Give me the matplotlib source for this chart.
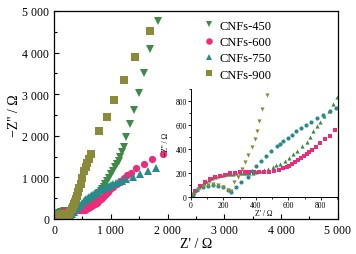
import matplotlib
matplotlib.use('Agg')
import matplotlib.pyplot as plt
from matplotlib.ticker import MultipleLocator, FuncFormatter

plt.rcParams['font.family'] = ['Liberation Serif', 'DejaVu Serif']

# Nyquist data (Z' , -Z'')
z450_re = [6, 20, 35, 50, 65, 80, 95, 112, 130, 148, 165, 182, 200, 220, 240, 260, 280, 300,
           320, 340, 360, 380, 400, 425, 450, 475, 504, 527, 549, 578, 607, 630, 652, 683, 714,
           735, 755, 776, 796, 823, 850, 877, 903, 930, 960, 1000, 1040, 1075, 1110, 1140, 1170,
           1200, 1225, 1263, 1333, 1409, 1491, 1585, 1696, 1830]
z450_im = [10, 45, 68, 85, 102, 118, 132, 145, 157, 167, 175, 182, 188, 193, 196, 198, 200, 202,
           203, 204, 205, 206, 210, 217, 225, 238, 255, 266, 278, 303, 328, 358, 388, 425, 463,
           506, 550, 590, 630, 676, 722, 778, 833, 905, 980, 1070, 1160, 1240, 1320, 1405, 1490,
           1600, 1720, 1981, 2277, 2622, 3024, 3506, 4084, 4752]

z600_re = [6, 27, 54, 84, 115, 146, 177, 208, 239, 270, 301, 330, 360, 390, 420, 450, 480, 510,
           540, 570, 590, 607, 625, 642, 660, 677, 695, 714, 730, 749, 772, 796, 825, 854, 887,
           920, 950, 982, 1045, 1111, 1170, 1228, 1290, 1351, 1450, 1584, 1731, 1918]
z600_im = [13, 55, 97, 130, 152, 167, 180, 188, 200, 204, 208, 210, 211, 211, 212, 212, 213, 215,
           225, 244, 253, 263, 280, 297, 312, 328, 345, 361, 378, 394, 422, 450, 482, 513, 560,
           610, 660, 711, 780, 848, 920, 993, 1055, 1113, 1234, 1330, 1450, 1571]

z750_re = [10, 40, 72, 105, 136, 167, 198, 228, 245, 280, 310, 352, 377, 403, 434, 465, 496,
           529, 550, 570, 596, 622, 650, 676, 708, 741, 777, 813, 854, 895, 930, 965, 1000, 1041,
           1090, 1146, 1200, 1263, 1392, 1509, 1655, 1789]
z750_im = [22, 62, 86, 98, 102, 98, 82, 60, 48, 88, 125, 172, 222, 261, 305, 342, 383,
           425, 448, 472, 497, 522, 550, 578, 604, 630, 658, 686, 715, 744, 767, 790, 810, 831,
           865, 896, 925, 952, 1017, 1089, 1152, 1234]

z900_re = [12, 43, 74, 105, 136, 167, 198, 228, 245, 268, 290, 313, 333, 354, 375, 393, 407,
           422, 440, 467, 486, 532, 558, 585, 614, 644, 795, 926, 1058, 1228, 1421, 1684]
z900_im = [27, 69, 92, 105, 110, 105, 88, 63, 50, 130, 167, 236, 292, 352, 417, 486, 555,
           638, 736, 852, 993, 1152, 1250, 1354, 1450, 1554, 2116, 2453, 2855, 3337, 3884, 4525]

labels = ['CNFs-450', 'CNFs-600', 'CNFs-750', 'CNFs-900']
colors = ['#3d8b47', '#ee2a7b', '#2b8a8c', '#8b8a3b']
main_markers = ['v', 'o', '^', 's']
inset_markers = ['^', 's', 'o', 'v']
series = [(z450_re, z450_im), (z600_re, z600_im), (z750_re, z750_im), (z900_re, z900_im)]


def thousands(v, pos):
    return '{:,.0f}'.format(v).replace(',', ' ')


fig = plt.figure(figsize=(3.56, 2.55), dpi=100)
ax = fig.add_axes([0.1517, 0.1373, 0.7973, 0.8157])

for (re, im), lab, c, m in zip(series, labels, colors, main_markers):
    ax.plot(re, im, linestyle='none', marker=m, color=c, markersize=5.2,
            markeredgewidth=0, label=lab)

ax.set_xlim(0, 5000)
ax.set_ylim(0, 5000)
ax.xaxis.set_major_locator(MultipleLocator(1000))
ax.yaxis.set_major_locator(MultipleLocator(1000))
ax.xaxis.set_minor_locator(MultipleLocator(500))
ax.yaxis.set_minor_locator(MultipleLocator(500))
ax.xaxis.set_major_formatter(FuncFormatter(thousands))
ax.yaxis.set_major_formatter(FuncFormatter(thousands))
ax.tick_params(which='both', direction='in', labelsize=8.5, width=0.8)
ax.tick_params(which='major', length=3.5)
ax.tick_params(which='minor', length=2)
ax.set_xlabel("Z' / Ω", fontsize=10, labelpad=1)
ax.set_ylabel("−Z'' / Ω", fontsize=10, labelpad=1)
for s in ax.spines.values():
    s.set_linewidth(0.9)

ax.legend(loc='upper left', bbox_to_anchor=(0.49, 1.0), frameon=False, fontsize=9,
          handletextpad=0.2, labelspacing=0.35, borderpad=0.2, handlelength=1.2,
          markerscale=0.9)

# inset zoom on the high-frequency region
axin = fig.add_axes([0.5365, 0.2224, 0.4101, 0.4235])
for (re, im), c, m in zip(series, colors, inset_markers):
    axin.plot(re, im, linestyle='none', marker=m, color=c, markersize=3,
              markeredgewidth=0)
axin.set_xlim(0, 900)
axin.set_ylim(0, 900)
axin.xaxis.set_major_locator(MultipleLocator(200))
axin.yaxis.set_major_locator(MultipleLocator(200))
axin.xaxis.set_minor_locator(MultipleLocator(100))
axin.yaxis.set_minor_locator(MultipleLocator(100))
axin.spines['top'].set_visible(False)
axin.spines['right'].set_visible(False)
axin.tick_params(which='both', direction='out', labelsize=5.5, width=0.6, pad=1)
axin.tick_params(which='major', length=2)
axin.tick_params(which='minor', length=1.2)
axin.set_xlabel("Z' / Ω", fontsize=5.5, labelpad=0)
axin.set_ylabel("−Z'' / Ω", fontsize=5.5, labelpad=4)
for s in axin.spines.values():
    s.set_linewidth(0.7)

fig.savefig('out.png', dpi=100)
